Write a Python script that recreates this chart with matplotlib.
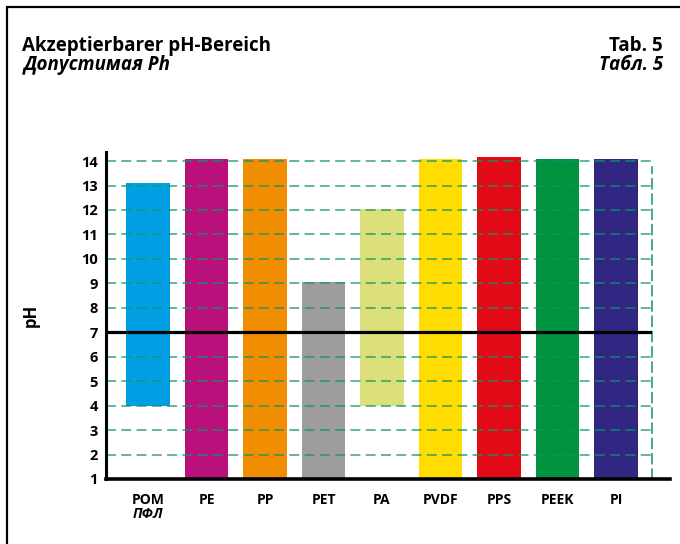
import matplotlib
matplotlib.use("Agg")
import matplotlib.pyplot as plt
from matplotlib.patches import Rectangle
from matplotlib.lines import Line2D

# ---- data ----
materials = ["POM", "PE", "PP", "PET", "PA", "PVDF", "PPS", "PEEK", "PI"]
sublabels = ["ПФЛ", "", "", "", "", "", "", "", ""]
ph_low = [4, 1, 1, 1, 4, 1, 1, 1, 1]
ph_high = [13.1, 14.1, 14.1, 9.05, 12.03, 14.1, 14.15, 14.1, 14.1]
colors = ["#009fe3", "#b9107b", "#f08d00", "#9d9d9c", "#dbe07a",
          "#ffdd00", "#e30a18", "#009340", "#312782"]
yticks = list(range(1, 15))
neutral_ph = 7

FONT = ["Open Sans", "DejaVu Sans"]
plt.rcParams["font.family"] = FONT

W, H = 680, 544
fig = plt.figure(figsize=(W / 100, H / 100), dpi=100)

# outer frame (only left and top visible)
fig.add_artist(Rectangle((6.5 / W, -0.2), 1.3, 1 - 7.5 / H + 0.2,
                         transform=fig.transFigure, fill=False,
                         edgecolor="black", linewidth=1.6))

# titles
fig.text(22 / W, 1 - 51 / H, "Akzeptierbarer pH-Bereich", fontsize=13.5,
         fontweight="bold", ha="left", va="baseline")
fig.text(24 / W, 1 - 70 / H, "Допустимая Ph", fontsize=13.5,
         fontweight="bold", style="italic", ha="left", va="baseline")
fig.text(663 / W, 1 - 51 / H, "Tab. 5", fontsize=13.5,
         fontweight="bold", ha="right", va="baseline")
fig.text(663 / W, 1 - 70 / H, "Табл. 5", fontsize=13.5,
         fontweight="bold", style="italic", ha="right", va="baseline")

left, right, bottom = 106 / W, 652 / W, 1 - 479 / H
top = 1 - 152 / H
ax = fig.add_axes([left, bottom, right - left, top - bottom])

x = list(range(len(materials)))
heights = [h - l for l, h in zip(ph_low, ph_high)]
ax.bar(x, heights, bottom=ph_low, width=0.75, color=colors, zorder=1)

ax.set_xlim(-0.718, len(materials) - 1 + 0.615)
ax.set_ylim(1, 14.37)

grid_col = "#12936a"
for y in yticks:
    if y in (1, neutral_ph):
        continue
    ax.axhline(y, color=grid_col, lw=1.1, dashes=(6.5, 3.5), alpha=0.85, zorder=2)
ax.axhline(neutral_ph, color="black", lw=2.3, zorder=3)

ax.set_yticks(yticks)
ax.set_yticklabels([str(v) for v in yticks], fontsize=10.5, fontweight="bold")
ax.set_xticks(x)
ax.set_xticklabels(materials, fontsize=10, fontweight="bold")
ax.tick_params(axis="both", length=0)
ax.tick_params(axis="y", pad=6)
ax.tick_params(axis="x", pad=10)
for xi, s in zip(x, sublabels):
    if s:
        ax.text(xi, -0.107, s, transform=ax.get_xaxis_transform(), fontsize=10,
                fontweight="bold", style="italic", ha="center", va="center")

ax.spines["top"].set_visible(False)
ax.spines["bottom"].set_visible(False)
ax.spines["left"].set_linewidth(2.2)
ax.spines["right"].set_color(grid_col)
ax.spines["right"].set_linewidth(1.1)
ax.spines["right"].set_linestyle((0, (6.5, 3.5)))
ax.spines["right"].set_bounds(1, 13.75)

# extended bottom axis line
ax.add_line(Line2D([0, (670 - 106) / 546], [0, 0], transform=ax.transAxes,
                   color="black", lw=2.6, clip_on=False, zorder=4))

ax.set_ylabel("pH", fontsize=12, fontweight="bold", labelpad=0)
ax.yaxis.set_label_coords((40 - 106) / 546, 0.5)

fig.savefig("out.png", dpi=100)
